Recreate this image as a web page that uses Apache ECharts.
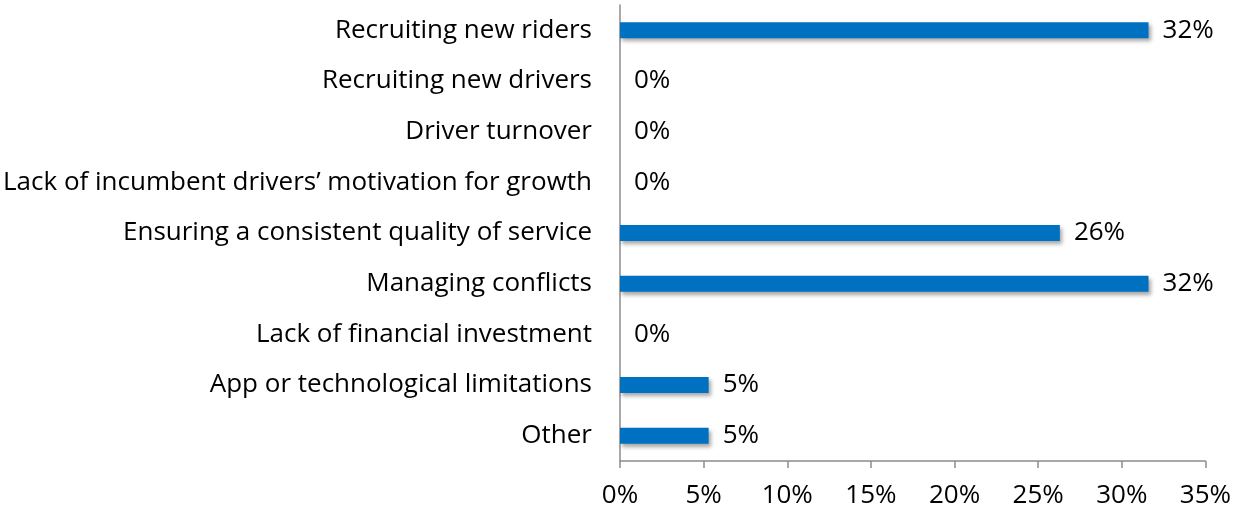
<!DOCTYPE html>
<html><head><meta charset="utf-8">
<script src="https://cdn.jsdelivr.net/npm/echarts@6/dist/echarts.min.js"></script>
<style>html,body{margin:0;padding:0;background:#fff}#c{width:1234px;height:513px}</style>
</head><body><div id="c"></div>
<script>
const categories = [
  "Recruiting new riders",
  "Recruiting new drivers",
  "Driver turnover",
  "Lack of incumbent drivers\u2019 motivation for growth",
  "Ensuring a consistent quality of service",
  "Managing conflicts",
  "Lack of financial investment",
  "App or technological limitations",
  "Other"
];
const values = [31.6, 0, 0, 0, 26.3, 31.6, 0, 5.3, 5.3];
const xTicks = [0, 5, 10, 15, 20, 25, 30, 35];

const FONT = 'Open Sans';
const FS = 26;
const chart = echarts.init(document.getElementById('c'));
chart.setOption({
  animation: false,
  grid: {left: 618, right: 24, top: 5, bottom: 52, containLabel: false},
  xAxis: {
    type: 'value', min: xTicks[0], max: xTicks[xTicks.length - 1], interval: 5,
    splitLine: {show: false},
    axisLine: {show: true, lineStyle: {color: '#8c8c8c', width: 1.5}},
    axisTick: {show: true, length: 7, lineStyle: {color: '#8c8c8c', width: 1.5}},
    axisLabel: {formatter: v => v + '%', color: '#000', fontFamily: FONT, fontSize: FS, margin: 22}
  },
  yAxis: {
    type: 'category', data: categories, inverse: true,
    axisLine: {show: true, lineStyle: {color: '#8c8c8c', width: 1.5}},
    axisTick: {show: false},
    axisLabel: {color: '#000', fontFamily: FONT, fontSize: FS, margin: 28}
  },
  series: [{
    type: 'bar', data: values, barWidth: 16,
    itemStyle: {color: '#0070C0', shadowColor: 'rgba(0,0,0,0.35)', shadowBlur: 4, shadowOffsetX: 2, shadowOffsetY: 3},
    label: {show: true, position: 'right', distance: 14, color: '#000', fontFamily: FONT, fontSize: FS,
      formatter: p => Math.round(p.value) + '%'}
  }]
});
</script></body></html>
